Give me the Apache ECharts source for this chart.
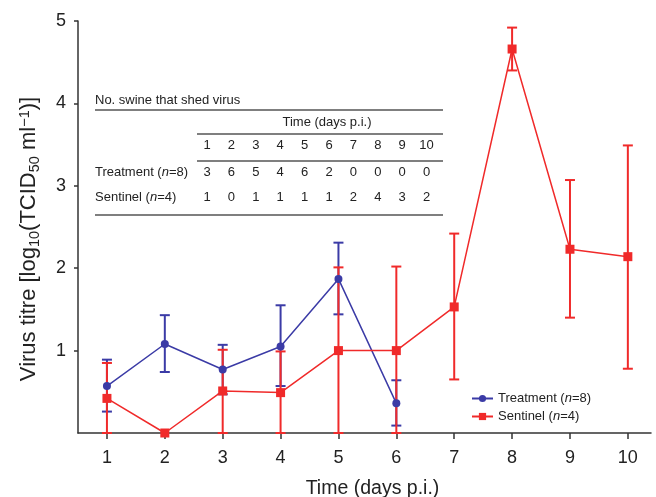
<!DOCTYPE html>
<html><head><meta charset="utf-8">
<script src="https://cdn.jsdelivr.net/npm/echarts@6/dist/echarts.min.js"></script>
<style>html,body{margin:0;padding:0;background:#fff}#c{width:656px;height:497px}</style>
</head><body><div id="c"></div>
<script>
const days = [1,2,3,4,5,6,7,8,9,10];
const treatMean = [0.57,1.08,0.77,1.05,1.87,0.36];
const treatLow  = [0.26,0.74,0.47,0.57,1.44,0.09];
const treatHigh = [0.89,1.43,1.07,1.55,2.31,0.64];
const sentMean = [0.42,0.0,0.51,0.49,1.0,1.0,1.53,4.66,2.23,2.14];
const sentLow  = [0,null,0,0,0,0,0.65,4.40,1.40,0.78];
const sentHigh = [0.85,null,1.01,0.99,2.01,2.02,2.42,4.92,3.07,3.49];
const shedTreatment = [3,6,5,4,6,2,0,0,0,0];
const shedSentinel  = [1,0,1,1,1,1,2,4,3,2];
const yTicks = [1,2,3,4,5];

const BLUE = '#3b3ba6', RED = '#f02a2a', FONT = 'Liberation Sans, Arial, sans-serif';

function errData(mean, lo, hi){ return mean.map((m,i)=>[days[i], lo[i], hi[i]]).filter(d=>d[1]!==null); }
function errSeries(data, color){
  return {type:'custom', data, z:1, silent:true,
    renderItem(params, api){
      const x=api.value(0), lo=api.value(1), hi=api.value(2);
      const a=api.coord([x,lo]), b=api.coord([x,hi]); const w=5;
      const st={stroke:color, lineWidth:2};
      return {type:'group', children:[
        {type:'line', shape:{x1:a[0],y1:a[1],x2:b[0],y2:b[1]}, style:st},
        {type:'line', shape:{x1:a[0]-w,y1:a[1],x2:a[0]+w,y2:a[1]}, style:st},
        {type:'line', shape:{x1:b[0]-w,y1:b[1],x2:b[0]+w,y2:b[1]}, style:st}
      ]};
    }};
}

// table graphic
const tblLeft = 95, tblRight = 443, colX0 = 207, colStep = 24.4;
const g = [];
const tStyle = {fontFamily:FONT, fontSize:13, fill:'#222'};
const rich = {a:{fontFamily:FONT,fontSize:13,fill:'#222'}, i:{fontFamily:FONT,fontSize:13,fontStyle:'italic',fill:'#222'}};
g.push({type:'text', x:tblLeft, y:100, style:Object.assign({text:'No. swine that shed virus', verticalAlign:'middle'},tStyle)});
g.push({type:'line', shape:{x1:tblLeft,y1:110,x2:tblRight,y2:110}, style:{stroke:'#555',lineWidth:1.5}});
g.push({type:'text', x:327, y:122, style:Object.assign({text:'Time (days p.i.)', align:'center', verticalAlign:'middle'},tStyle)});
g.push({type:'line', shape:{x1:197,y1:134,x2:tblRight,y2:134}, style:{stroke:'#555',lineWidth:1.5}});
g.push({type:'line', shape:{x1:197,y1:161,x2:tblRight,y2:161}, style:{stroke:'#555',lineWidth:1.5}});
g.push({type:'line', shape:{x1:tblLeft,y1:215,x2:tblRight,y2:215}, style:{stroke:'#555',lineWidth:1.5}});
days.forEach((d,i)=>{
  const x = colX0 + i*colStep;
  g.push({type:'text', x, y:145, style:Object.assign({text:String(d), align:'center', verticalAlign:'middle'},tStyle)});
  g.push({type:'text', x, y:172, style:Object.assign({text:String(shedTreatment[i]), align:'center', verticalAlign:'middle'},tStyle)});
  g.push({type:'text', x, y:197, style:Object.assign({text:String(shedSentinel[i]), align:'center', verticalAlign:'middle'},tStyle)});
});
g.push({type:'text', x:tblLeft, y:172, style:{text:'{a|Treatment (}{i|n}{a|=8)}', rich, verticalAlign:'middle'}});
g.push({type:'text', x:tblLeft, y:197, style:{text:'{a|Sentinel (}{i|n}{a|=4)}', rich, verticalAlign:'middle'}});

const chart = echarts.init(document.getElementById('c'), null, {renderer:'canvas'});
chart.setOption({
  backgroundColor:'#fff',
  animation:false,
  grid:{left:78, right:5, top:21, bottom:64, containLabel:false, outerBoundsMode:'none'},
  legend:{
    orient:'vertical', left:466, top:387, itemGap:5, itemWidth:21, itemHeight:9,
    data:['Treatment','Sentinel'],
    formatter: n => n==='Treatment' ? '{a|Treatment (}{i|n}{a|=8)}' : '{a|Sentinel (}{i|n}{a|=4)}',
    textStyle:{rich:{a:{fontFamily:FONT,fontSize:13,color:'#222'},i:{fontFamily:FONT,fontSize:13,fontStyle:'italic',color:'#222'}}}
  },
  xAxis:{type:'value', min:0.5, max:10.4,
    name:'Time (days p.i.)', nameLocation:'middle', nameGap:46,
    nameTextStyle:{fontFamily:FONT,fontSize:19.5,color:'#222',padding:[0,0,0,16]},
    axisLine:{lineStyle:{color:'#333',width:1.5}},
    axisTick:{customValues:days, length:6, lineStyle:{color:'#333',width:1.5}},
    axisLabel:{customValues:days, fontFamily:FONT, fontSize:18, color:'#222', margin:16},
    splitLine:{show:false}},
  yAxis:{type:'value', min:0, max:5, interval:1,
    name:'{a|Virus titre [log}{s|10}{a|(TCID}{s|50}{a| ml}{p|−1}{a|)]}', nameLocation:'middle', nameGap:36,
    nameTextStyle:{padding:[0,24,0,0], rich:{
      a:{fontFamily:FONT,fontSize:22,color:'#222'},
      s:{fontFamily:FONT,fontSize:14.5,color:'#222',padding:[11,0,0,0]},
      p:{fontFamily:FONT,fontSize:14.5,color:'#222',padding:[0,0,9,0]}}},
    axisLine:{show:true, lineStyle:{color:'#333',width:1.5}},
    axisTick:{show:true, customValues:yTicks, length:4, lineStyle:{color:'#333',width:1.5}},
    axisLabel:{customValues:yTicks, fontFamily:FONT, fontSize:18, color:'#222', margin:12},
    splitLine:{show:false}},
  graphic:g,
  series:[
    errSeries(errData(treatMean,treatLow,treatHigh), BLUE),
    errSeries(errData(sentMean,sentLow,sentHigh), RED),
    {name:'Treatment', type:'line', z:3, data:treatMean.map((v,i)=>[days[i],v]),
      symbol:'circle', symbolSize:8, itemStyle:{color:BLUE}, lineStyle:{color:BLUE,width:1.5}},
    {name:'Sentinel', type:'line', z:4, data:sentMean.map((v,i)=>[days[i],v]),
      symbol:'rect', symbolSize:9, itemStyle:{color:RED}, lineStyle:{color:RED,width:1.5}}
  ]
});
</script></body></html>
